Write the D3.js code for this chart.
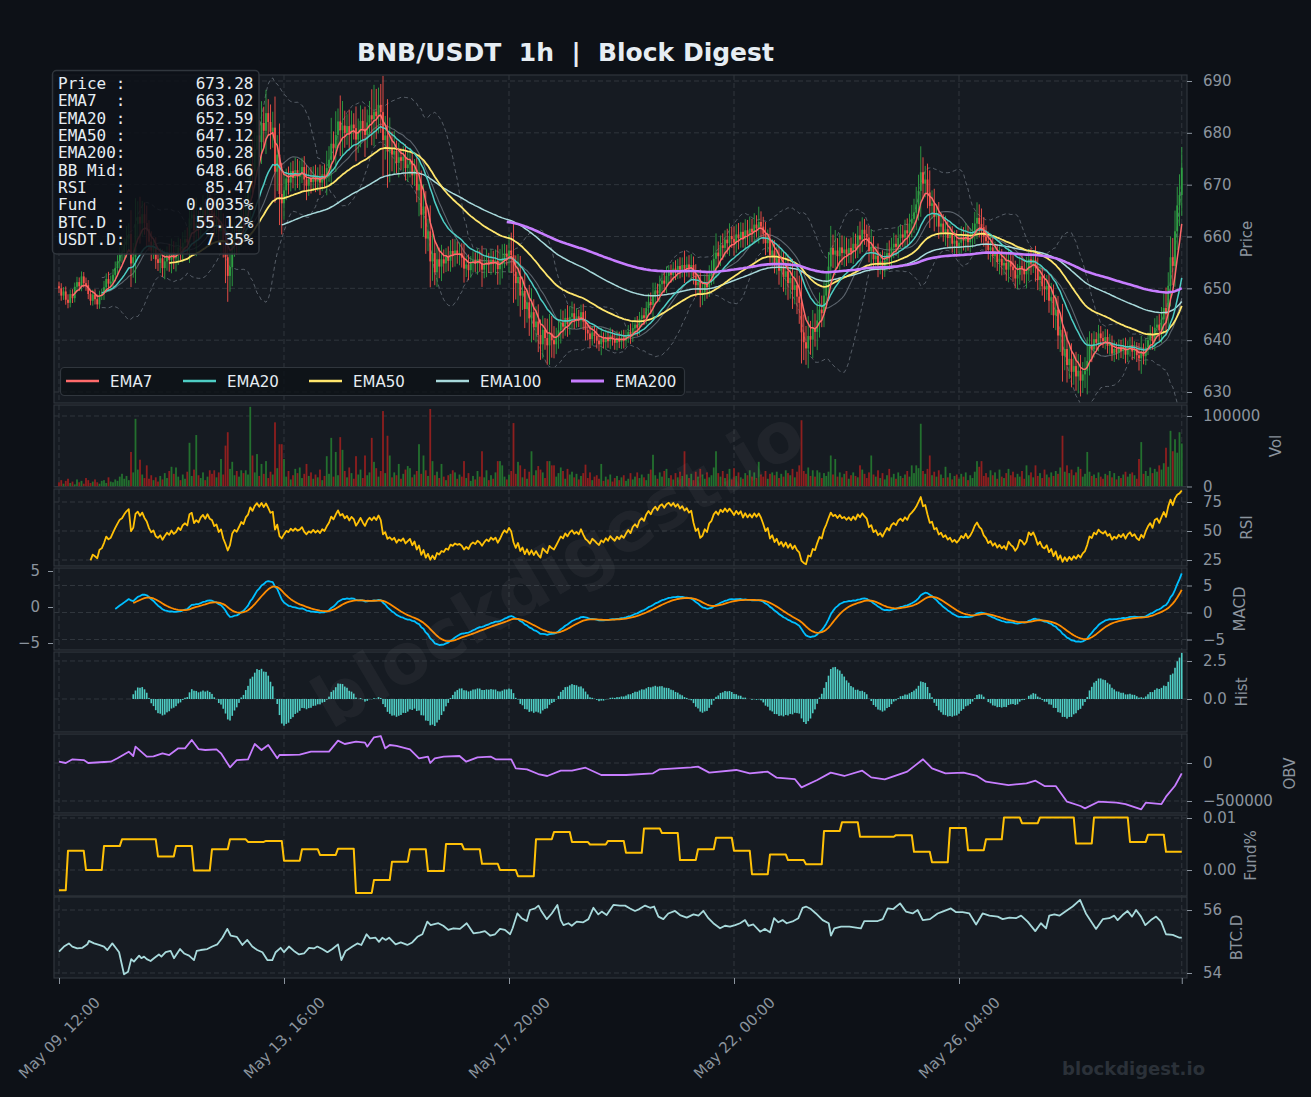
<!DOCTYPE html>
<html><head><meta charset="utf-8"><title>BNB/USDT 1h | Block Digest</title>
<script src="https://cdn.jsdelivr.net/npm/d3@7/dist/d3.min.js"></script>
<style>html,body{margin:0;padding:0;background:#0d1117;}svg{display:block;}</style>
</head><body>
<svg id="chart" width="1311" height="1097"></svg>
<script>
// ---------------- DATA ----------------
// hourly closes, May 09 12:00 -> May 30 07:00 (500 candles)
const closes = [
650.0,648.6,649.4,647.8,647.2,648.9,648.1,650.3,651.2,650.4,652.3,651.0,650.6,648.9,647.6,648.8,647.9,646.9,648.7,649.0,
650.2,651.8,650.9,651.3,652.6,653.9,655.2,656.5,657.0,658.4,659.6,660.5,654.8,656.0,662.4,663.8,662.5,664.3,662.6,661.4,
659.0,657.3,658.0,655.6,654.9,655.8,653.9,655.2,656.3,655.5,657.0,655.8,656.4,657.9,657.1,658.8,659.5,658.9,663.5,664.2,
661.2,662.5,661.8,664.0,665.2,664.1,666.3,665.0,664.6,662.8,663.4,661.0,661.9,658.5,656.0,652.4,654.1,658.6,660.2,659.4,
661.5,664.0,663.2,666.8,668.5,673.9,672.6,676.8,679.5,678.2,681.9,680.4,683.8,682.1,680.2,681.0,672.5,675.8,668.2,666.4,
668.9,671.2,670.4,672.6,671.3,672.8,671.5,672.1,673.4,671.0,669.8,671.2,670.5,671.8,670.6,671.5,670.4,672.0,671.3,673.2,
674.8,677.9,677.0,679.6,682.2,680.5,681.4,680.0,681.3,679.8,681.6,680.9,678.7,680.2,682.3,680.8,679.6,682.0,683.4,682.6,
684.1,683.2,685.4,684.0,678.6,679.5,676.4,677.0,675.8,676.5,674.2,675.3,674.6,675.4,673.2,673.9,674.6,671.8,672.9,668.9,
670.1,664.2,665.8,659.6,661.0,655.2,656.8,653.1,655.6,654.2,655.6,654.8,656.1,655.3,657.2,656.4,657.3,656.5,656.8,655.9,
653.8,654.6,653.5,654.8,655.4,654.7,655.6,654.9,653.6,654.5,655.2,654.6,655.5,654.8,655.3,653.7,654.6,655.8,656.7,656.1,
657.3,656.4,653.2,651.0,652.2,648.6,649.5,646.0,647.3,644.2,645.4,642.5,643.6,641.0,639.2,642.0,640.4,639.0,641.3,640.0,
639.2,640.5,641.9,643.4,642.6,644.3,643.1,644.5,645.2,644.0,644.6,643.8,645.4,643.6,642.0,641.3,640.2,641.5,640.8,639.9,
639.2,640.3,639.6,640.6,639.8,640.9,640.1,639.5,640.4,639.7,640.5,639.9,640.8,641.6,640.9,642.3,643.0,642.4,644.1,644.8,
644.3,646.2,647.4,646.8,648.5,649.6,649.0,650.8,651.5,650.9,652.4,653.1,652.6,653.8,653.2,654.3,653.6,654.5,653.8,654.6,
653.9,654.5,652.4,650.6,651.2,648.8,649.3,650.9,650.2,652.6,653.4,655.7,656.9,656.2,658.3,657.8,659.4,658.7,660.1,659.5,
658.8,660.4,659.7,660.9,659.6,661.2,660.3,661.5,660.8,662.3,661.6,662.8,661.9,660.5,658.7,659.6,656.4,657.3,654.9,655.8,
653.4,654.2,652.2,653.3,651.0,652.0,649.7,650.6,648.4,647.2,641.5,639.6,638.4,640.8,640.1,642.3,641.6,643.8,645.9,645.2,
648.6,650.9,654.2,657.8,656.5,657.3,656.2,657.9,656.8,657.5,656.6,657.8,656.9,658.6,657.7,660.2,659.4,661.3,660.5,659.8,
657.2,658.0,655.6,656.3,654.5,655.2,653.9,655.4,656.8,656.0,657.9,658.6,658.0,659.7,660.4,659.8,661.2,660.6,662.5,663.4,
664.6,666.2,668.8,672.4,670.2,671.0,668.5,665.9,666.4,663.8,664.3,661.9,662.5,660.8,661.4,659.7,660.3,658.6,659.2,658.1,
658.8,659.9,659.2,660.4,658.9,659.6,660.8,662.5,663.6,662.4,661.8,660.0,659.1,657.4,657.9,656.2,656.8,655.1,655.7,654.4,
654.9,653.6,655.3,654.2,653.5,651.9,652.6,654.3,653.8,652.7,653.4,655.6,654.8,655.5,654.0,651.6,652.3,650.4,649.8,650.5,
647.6,648.3,644.8,645.9,640.9,642.0,637.0,638.3,635.2,636.4,633.9,635.0,633.0,634.1,632.2,633.4,634.1,636.0,638.9,638.2,
640.2,639.5,641.3,640.4,639.8,640.6,638.9,639.5,637.4,638.3,637.6,638.7,637.9,638.8,637.2,638.4,639.0,637.8,638.3,637.1,
636.5,637.8,636.9,638.6,640.0,641.0,639.8,642.4,643.0,641.9,644.0,646.2,645.0,650.5,656.0,654.3,661.0,666.0,668.0,673.28
];
const firstOpen = 650.4;
// hourly volume, thousands of BNB
const volumes = [
6,9,4,8,11,5,7,3,10,6,8,4,12,9,5,7,10,6,4,8,
9,5,13,7,6,10,8,14,18,11,15,9,49,20,96,24,38,17,12,30,
11,16,9,13,7,15,10,19,12,22,28,18,27,14,9,17,11,21,62,15,
24,73,16,12,20,9,14,23,18,23,13,20,39,17,58,77,25,35,16,22,
14,23,19,23,17,113,44,20,46,15,32,18,36,12,21,17,91,26,60,60,
39,14,22,10,16,25,19,27,12,18,32,15,20,11,17,13,24,9,15,43,
18,69,14,49,16,70,52,22,13,27,19,11,43,17,24,12,44,16,20,69,
35,26,14,22,107,19,72,44,13,20,16,32,11,18,24,29,26,13,17,22,
60,18,44,23,15,110,36,16,21,12,32,14,9,16,18,23,20,11,17,14,
36,12,19,8,15,10,22,14,50,13,23,9,16,11,20,36,36,30,14,10,
17,22,90,18,35,30,13,25,11,21,50,16,23,29,24,20,12,36,36,30,
30,14,19,27,22,11,25,17,21,13,18,10,15,19,31,12,20,9,14,16,
11,32,8,14,10,17,7,12,15,9,13,16,8,11,19,10,14,20,12,17,
13,9,18,24,45,16,11,20,14,22,25,12,16,10,19,13,21,15,50,17,
12,18,9,21,14,25,17,11,20,13,16,27,50,19,14,22,12,18,25,10,
26,15,20,13,11,19,16,23,14,20,12,35,17,14,22,11,18,20,16,21,
12,18,14,23,19,16,25,13,21,30,94,22,18,27,15,23,14,23,20,12,
19,15,21,44,17,39,14,20,13,18,22,11,16,20,15,13,30,24,18,12,
20,44,17,14,23,12,19,10,16,25,13,18,11,20,15,12,17,22,14,30,
19,30,26,89,22,18,25,44,16,21,14,23,17,12,28,13,19,10,15,17,
11,18,14,20,9,16,12,21,36,28,36,15,19,13,23,16,20,11,24,14,
12,19,25,16,21,13,18,14,22,11,30,16,20,13,30,15,19,12,24,17,
13,20,15,22,18,27,72,21,30,19,24,16,20,28,25,14,18,49,21,15,
17,12,20,14,11,18,16,22,13,19,10,15,12,17,21,14,18,20,16,11,
39,63,18,22,15,27,19,25,21,30,24,33,55,28,79,50,67,48,77,61
];
// typical wick length per 10-hour block (price units)
const wickSizes = [1.2,1.2,1.5,2.5,2.0, 2.0,2.5,2.5,3.0,3.0, 2.0,2.0,2.5,2.5,3.5, 2.0,2.5,2.0,1.8,2.0,
  3.0,2.5,2.0,1.5,1.5, 1.5,1.5,1.5,2.0,2.0, 2.0,2.0,3.0,3.0,2.5, 2.0,2.0,2.0,2.5,2.0,
  2.0,2.0,2.0,2.0,2.5, 2.5,1.5,1.5,1.5,2.0];
// funding rate (%) per 8-hour period (first period is the partial one before May 09 16:00)
const fundRates = [-0.0039,0.0037,0.0000,0.0046,0.0059,0.0059,0.0026,0.0046,-0.0001,0.0040,0.0059,0.0054,0.0056,
  0.0018,0.0040,0.0029,0.0041,-0.0044,-0.0019,0.0016,0.0040,-0.0002,0.0050,0.0040,0.0012,0.0000,-0.0012,
  0.0059,0.0073,0.0054,0.0049,0.0056,0.0033,0.0080,0.0071,0.0019,0.0040,0.0062,0.0037,-0.0008,0.0030,
  0.0019,0.0011,0.0075,0.0092,0.0064,0.0064,0.0067,0.0035,0.0015,0.0081,0.0038,0.0059,0.0101,0.0090,
  0.0101,0.0101,0.0051,0.0101,0.0101,0.0054,0.0068,0.0035];
// OBV (thousands) sampled at hour index
const obvHours = [0,3,6,11,13,20,23,26,31,33,34,39,42,46,49,53,56,59,62,65,70,72,76,79,84,87,90,93,97,98,100,107,112,120,124,127,132,136,137,140,143,145,147,150,156,160,164,165,167,171,178,181,186,192,194,201,203,208,213,217,223,228,234,241,252,264,267,281,284,289,301,307,315,319,327,330,337,343,349,357,361,367,377,384,388,394,402,408,412,422,430,434,438,443,448,454,456,462,470,474,481,483,490,492,496,499];
const obvValues = [17,0,49,39,0,13,17,62,149,92,215,83,88,127,105,193,193,303,184,171,180,127,-57,39,49,250,171,237,62,105,105,110,149,149,294,250,281,268,215,338,355,193,237,224,180,62,83,0,62,83,92,17,75,83,49,49,-70,-83,-145,-171,-101,-101,-62,-158,-158,-136,-83,-57,-48,-127,-92,-136,-114,-193,-211,-320,-224,-127,-171,-101,-189,-215,-114,49,-70,-136,-127,-171,-246,-290,-268,-233,-303,-303,-509,-566,-597,-509,-522,-540,-610,-522,-540,-443,-300,-136];
// BTC dominance (%) sampled at hour index
const btcdHours = [0,2.2,4.4,5.9,8.1,10.4,12.6,13.3,15.6,17.8,20,21.5,23.7,25.2,26.7,28.9,30.7,32.1,33.3,35.6,
36.6,37.8,39,40.7,42.2,44.4,45.5,47.4,49.6,51.1,53.8,55.6,57.8,60,61.2,63,65.9,68.1,70.4,72.6,
74.8,76.3,79,81.5,83.7,85.9,88.1,90.4,92.6,94.8,96.3,98.5,100,102.2,104.4,106.7,108.9,111.1,113.3,114.8,
117,119.3,121.5,124,125.5,127.4,130.4,132.6,134.4,136.7,138.2,140.7,142.2,143.7,145.2,146.7,149.6,151.9,154.8,157,
159.3,161.5,163.7,165.2,166.4,168.6,170.8,173,175.3,178.2,181.2,184.2,187.1,189.3,191.6,193.8,196,198.2,200.5,201.6,
203.7,205.6,207.9,209.3,211.6,213.1,214.5,216.8,219,221.5,223,224.2,226.4,227.9,230.1,233,235.3,237.5,239.7,241.2,
243.4,246.4,249.3,251.6,253.8,256,257.9,260.5,262.7,264.5,266.4,268.6,270.8,273.8,276,279,282,284.2,286.4,288.6,
290.8,293.8,296,298.2,300.5,302.7,304.9,306.4,308.6,311.6,313.8,316,317.8,319.7,321.6,323.4,326.4,328.6,330.5,
332,334.2,336.4,339.4,342.1,343.1,344.6,347.6,351.3,354.2,356.4,357.9,360.9,363.9,366.1,368.3,370.8,373.8,376.4,379.4,
381.6,383.9,387.1,390.5,392.7,396.4,398.7,401.6,404.6,407.6,410.5,413.5,417.2,419.4,422.4,425.3,427.6,430.5,433.9,436.4,
438.7,440.1,442.4,444.6,447.6,450.5,453.8,456.4,460.9,463.9,466.8,469,470.5,472.7,474.9,476.9,478.7,480.9,482.8,485.3,
487.6,489.8,492,495,498,499];
const btcdValues = [54.68,54.84,54.94,54.84,54.78,54.80,54.91,55.02,54.94,54.89,54.84,54.73,54.94,54.80,54.66,53.96,54.04,54.44,54.36,54.55,
54.47,54.52,54.44,54.38,54.47,54.59,54.52,54.66,54.70,54.47,54.76,54.62,54.55,54.41,54.70,54.73,54.76,54.84,54.91,55.12,
55.40,55.19,55.15,54.89,55.05,54.84,54.73,54.66,54.41,54.41,54.66,54.80,54.66,54.84,54.70,54.59,54.62,54.80,54.78,54.84,
54.76,54.66,54.76,54.91,54.41,54.70,54.84,54.94,54.89,55.23,55.10,55.12,54.99,55.12,55.05,55.12,54.91,54.97,54.89,54.97,
55.15,55.23,55.63,55.52,55.54,55.58,55.50,55.37,55.42,55.40,55.58,55.26,55.29,55.33,55.19,55.23,55.40,55.37,55.23,55.42,
55.89,55.74,55.65,56.00,56.05,56.14,55.95,55.71,55.89,56.16,55.68,55.52,55.58,55.50,55.63,55.61,55.71,56.07,55.86,55.95,
55.84,56.16,56.14,56.14,56.05,55.97,56.03,56.14,56.07,56.11,55.79,55.71,55.89,55.97,55.84,55.76,55.86,55.82,55.97,55.74,
55.58,55.42,55.50,55.47,55.52,55.58,55.68,55.50,55.54,55.31,55.40,55.29,55.74,55.61,55.68,55.58,55.65,55.74,56.07,
56.11,56.03,55.89,55.68,55.58,55.19,55.42,55.47,55.47,55.44,55.42,55.65,55.65,55.65,55.71,56.05,56.03,56.21,55.95,55.89,
56.00,55.68,55.71,55.89,55.95,56.05,55.93,55.93,55.89,55.54,55.89,55.82,55.79,55.71,55.76,55.74,55.82,55.63,55.33,55.58,
55.42,55.82,55.86,55.82,55.97,56.11,56.32,55.89,55.40,55.71,55.74,55.82,55.68,55.84,55.97,55.79,56.00,55.79,55.52,55.68,
55.79,55.63,55.23,55.21,55.12,55.12];
// x ticks (hour index) and labels
const xTickHours = [0,100,200,300,400,499];
const xTickLabels = ["May 09, 12:00","May 13, 16:00","May 17, 20:00","May 22, 00:00","May 26, 04:00",""];
// info box
const infoLabels = ["Price :","EMA7  :","EMA20 :","EMA50 :","EMA200:","BB Mid:","RSI   :","Fund  :","BTC.D :","USDT.D:"];
const infoValues = ["673.28","663.02","652.59","647.12","650.28","648.66","85.47","0.0035%","55.12%","7.35%"];
// legend
const legendNames = ["EMA7","EMA20","EMA50","EMA100","EMA200"];
const emaSpans = [7,20,50,100,200];
const emaColors = ["#ff6b6b","#4ecdc4","#ffe66d","#a8dadc","#c77dff"];
const emaWidths = [1.5,1.5,1.8,1.5,2.6];
const titleText = "BNB/USDT  1h  |  Block Digest";
const watermark = "blockdigest.io";

// ---------------- DERIVED INDICATORS ----------------
const N = closes.length;
const opens = closes.map((c,i)=> i===0 ? firstOpen : closes[i-1]);
const candles = closes.map((c,i)=>{
  const o = opens[i];
  const w = wickSizes[Math.min(wickSizes.length-1, Math.floor(i/10))] * Math.min(2, 0.6 + volumes[i]/40);
  return {i, o, c, h: Math.max(o,c)+w, l: Math.min(o,c)-w, v: volumes[i], up: c>=o};
});
function ema(arr, span, minP){
  const a = 2/(span+1); let e = null, n = 0;
  return arr.map(v=>{ if(v==null) return null; n++; e = (e==null)? v : a*v+(1-a)*e; return n>=minP ? e : null; });
}
const emas = emaSpans.map(s=>ema(closes, s, s));
const e12 = ema(closes,12,1), e26 = ema(closes,26,1);
const macd = closes.map((c,i)=> i>=25 ? e12[i]-e26[i] : null);
const signal = ema(macd, 9, 9);
const hist = macd.map((m,i)=> (m!=null && signal[i]!=null) ? m-signal[i] : null);
// RSI 14 with Wilder smoothing
let ag = null, al = null;
const rsi = closes.map((c,i)=>{
  if(i===0) return null;
  const d = c - closes[i-1], g = Math.max(d,0), l = Math.max(-d,0);
  ag = ag==null ? g : ag + (g-ag)/14;
  al = al==null ? l : al + (l-al)/14;
  return i>=14 ? (al===0 ? 100 : 100-100/(1+ag/al)) : null;
});
const bb = closes.map((c,i)=>{
  if(i<19) return null; const s = closes.slice(i-19,i+1); const m = d3.mean(s), sd = d3.deviation(s);
  return {m, u:m+2*sd, l:m-2*sd};
});
const fundHourly = d3.range(N).map(h=> fundRates[h<4 ? 0 : Math.floor((h-4)/8)+1]);

// ---------------- LAYOUT ----------------
const W = 1311, H = 1097, X0 = 54, X1 = 1187;
const FONT = "DejaVu Sans, Verdana, sans-serif", MONO = "DejaVu Sans Mono, monospace";
const GRID = "#30363d", AX = "#8b949e", FG = "#e6edf3";
const svg = d3.select("#chart");
svg.append("rect").attr("width",W).attr("height",H).attr("fill","#0d1117");
const defs = svg.append("defs");
const x = d3.scaleLinear().domain([-2.2222, 501.3333]).range([X0, X1]);

const fmtPlain = d3.format("");
const panels = {
  price:{top:75,bottom:403,domain:[627.878,691.158],ticks:[630,640,650,660,670,680,690],title:"Price",tx:1247},
  vol:{top:405,bottom:487,domain:[-0.71,115.6],ticks:[0,100],fmt:d=>d===0?"0":"100000",title:"Vol",tx:1276},
  rsi:{top:489,bottom:566,domain:[19.83,86.21],ticks:[25,50,75],title:"RSI",tx:1247},
  macd:{top:568,bottom:650,domain:[-6.94,8.24],ticks:[-5,0,5],title:"MACD",tx:1240},
  hist:{top:652,bottom:732,domain:[-2.17,3.09],ticks:[0,2.5],fmt:d=>d3.format(".1f")(d),title:"Hist",tx:1242},
  obv:{top:734,bottom:813,domain:[-657.9,381.6],ticks:[-500,0],fmt:d=>d===0?"0":"\u2212500000",title:"OBV",tx:1290},
  fund:{top:815,bottom:896,domain:[-0.005,0.010577],ticks:[0,0.01],fmt:d=>d3.format(".2f")(d),title:"Fund%",tx:1251},
  btcd:{top:897,bottom:978,domain:[53.841,56.413],ticks:[54,56],title:"BTC.D",tx:1237}
};
Object.entries(panels).forEach(([k,p])=>{
  p.y = d3.scaleLinear().domain(p.domain).range([p.bottom,p.top]);
  const g = svg.append("g");
  g.append("rect").attr("x",X0).attr("y",p.top).attr("width",X1-X0).attr("height",p.bottom-p.top).attr("fill","#161b22");
  defs.append("clipPath").attr("id","clip-"+k).append("rect").attr("x",X0).attr("y",p.top).attr("width",X1-X0).attr("height",p.bottom-p.top);
  g.selectAll(null).data(p.ticks).join("line")
    .attr("x1",X0).attr("x2",X1).attr("y1",d=>p.y(d)).attr("y2",d=>p.y(d))
    .attr("stroke",GRID).attr("stroke-width",1).attr("stroke-dasharray","5,3");
  g.selectAll(null).data(xTickHours).join("line")
    .attr("x1",d=>x(d)).attr("x2",d=>x(d)).attr("y1",p.top).attr("y2",p.bottom)
    .attr("stroke",GRID).attr("stroke-width",1).attr("stroke-dasharray","5,3");
  p.plot = svg.append("g").attr("clip-path",`url(#clip-${k})`);
});

const ptsOf = arr => arr.map((v,i)=>({i,v}));
function drawLine(panel, arr, color, width, dash, opacity){
  const p = panels[panel];
  p.plot.append("path").datum(ptsOf(arr))
    .attr("d", d3.line().defined(d=>d.v!=null).x(d=>x(d.i)).y(d=>p.y(d.v)))
    .attr("fill","none").attr("stroke",color).attr("stroke-width",width)
    .attr("stroke-dasharray",dash||null).attr("opacity",opacity==null?1:opacity)
    .attr("stroke-linejoin","round");
}

// ---- price panel ----
const P = panels.price;
drawLine("price", bb.map(b=>b&&b.u), "#8b949e", 1, "4,3", 0.55);
drawLine("price", bb.map(b=>b&&b.l), "#8b949e", 1, "4,3", 0.55);
drawLine("price", bb.map(b=>b&&b.m), "#8b949e", 1.1, null, 0.6);
const UP = "#2ea043", DN = "#f85149";
P.plot.selectAll("line.wick").data(candles).join("line").attr("class","wick")
  .attr("x1",d=>x(d.i)).attr("x2",d=>x(d.i)).attr("y1",d=>P.y(d.h)).attr("y2",d=>P.y(d.l))
  .attr("stroke",d=>d.up?UP:DN).attr("stroke-width",0.9);
P.plot.selectAll("rect.body").data(candles).join("rect").attr("class","body")
  .attr("x",d=>x(d.i)-0.9).attr("width",1.8)
  .attr("y",d=>P.y(Math.max(d.o,d.c)))
  .attr("height",d=>Math.max(0.8, Math.abs(P.y(d.o)-P.y(d.c))))
  .attr("fill",d=>d.up?UP:DN);
[3,2,1,0,4].forEach(k=> drawLine("price", emas[k], emaColors[k], emaWidths[k]));

// ---- volume ----
const V = panels.vol;
V.plot.selectAll("rect").data(candles).join("rect")
  .attr("x",d=>x(d.i)-0.9).attr("width",1.8)
  .attr("y",d=>V.y(d.v)).attr("height",d=>V.y(0)-V.y(d.v))
  .attr("fill",d=>d.up?"#23702f":"#8e1f1f");

// ---- RSI ----
drawLine("rsi", rsi, "#ffc107", 1.8);

// ---- MACD ----
drawLine("macd", macd, "#00bfff", 1.8);
drawLine("macd", signal, "#ff8c00", 1.8);

// ---- Hist ----
const HP = panels.hist;
HP.plot.selectAll("rect").data(ptsOf(hist).filter(d=>d.v!=null)).join("rect")
  .attr("x",d=>x(d.i)-0.8).attr("width",1.6)
  .attr("y",d=>HP.y(Math.max(0,d.v))).attr("height",d=>Math.abs(HP.y(d.v)-HP.y(0)))
  .attr("fill","#4ecdc4");

// ---- OBV ----
const O = panels.obv;
O.plot.append("path").datum(obvHours.map((h,i)=>({h,v:obvValues[i]})))
  .attr("d", d3.line().x(d=>x(d.h)).y(d=>O.y(d.v)))
  .attr("fill","none").attr("stroke","#c77dff").attr("stroke-width",1.8).attr("stroke-linejoin","round");

// ---- Funding ----
drawLine("fund", fundHourly, "#ffc107", 2);

// ---- BTC.D ----
const B = panels.btcd;
B.plot.append("path").datum(btcdHours.map((h,i)=>({h,v:btcdValues[i]})))
  .attr("d", d3.line().x(d=>x(d.h)).y(d=>B.y(d.v)))
  .attr("fill","none").attr("stroke","#a8dadc").attr("stroke-width",1.8).attr("stroke-linejoin","round");

// ---- frames, axes, titles ----
Object.entries(panels).forEach(([k,p])=>{
  svg.append("rect").attr("x",X0).attr("y",p.top).attr("width",X1-X0).attr("height",p.bottom-p.top)
    .attr("fill","none").attr("stroke",GRID).attr("stroke-width",1.2);
  const ax = svg.append("g").attr("transform",`translate(${X1},0)`)
    .call(d3.axisRight(p.y).tickValues(p.ticks).tickFormat(p.fmt||fmtPlain).tickSize(5).tickPadding(11));
  ax.select(".domain").remove();
  ax.attr("font-size",15).attr("font-family",FONT).attr("color",AX);
  svg.append("text").attr("transform",`translate(${p.tx},${(p.top+p.bottom)/2}) rotate(-90)`)
    .attr("text-anchor","middle").attr("dominant-baseline","central")
    .attr("font-family",FONT).attr("font-size",15).attr("fill",AX).text(p.title);
});
// extra left axis on the MACD panel
const macdLeft = d3.scaleLinear().domain([-5.972,5.417]).range([650,568]);
const axL = svg.append("g").attr("transform",`translate(${X0-1},0)`)
  .call(d3.axisLeft(macdLeft).tickValues([-5,0,5]).tickSize(5).tickPadding(8));
axL.select(".domain").remove();
axL.attr("font-size",15).attr("font-family",FONT).attr("color",AX);

// bottom time axis
const axB = svg.append("g").attr("transform",`translate(0,978)`)
  .call(d3.axisBottom(x).tickValues(xTickHours).tickSize(6).tickFormat((d,i)=>xTickLabels[i]));
axB.select(".domain").remove();
axB.attr("font-size",15).attr("font-family",FONT).attr("color",AX);
axB.selectAll("text").attr("y",null).attr("dy",null)
  .attr("transform","translate(0,60) rotate(-45)")
  .attr("text-anchor","middle").attr("dominant-baseline","central");

// ---- legend ----
const lg = svg.append("g");
lg.append("rect").attr("x",60.5).attr("y",367.5).attr("width",624).attr("height",28).attr("rx",4)
  .attr("fill","#0d1117").attr("fill-opacity",0.8).attr("stroke","#30363d").attr("stroke-width",1.2);
const lgX = [66,183,309,436,571];
legendNames.forEach((n,i)=>{
  lg.append("line").attr("x1",lgX[i]).attr("x2",lgX[i]+33).attr("y1",381).attr("y2",381)
    .attr("stroke",emaColors[i]).attr("stroke-width",i===4?3.2:2.4);
  lg.append("text").attr("x",lgX[i]+44).attr("y",386.5).attr("font-family",FONT).attr("font-size",15)
    .attr("fill",FG).text(n);
});

// ---- info box ----
const ib = svg.append("g");
ib.append("rect").attr("x",52.5).attr("y",70.5).attr("width",206.5).attr("height",183.5).attr("rx",4)
  .attr("fill","#0d1117").attr("fill-opacity",0.85).attr("stroke","#30363d").attr("stroke-width",1.5);
infoLabels.forEach((l,i)=>{
  const yy = 89 + i*17.33;
  ib.append("text").attr("x",58).attr("y",yy).attr("font-family",MONO).attr("font-size",16)
    .attr("fill",FG).style("white-space","pre").text(l);
  ib.append("text").attr("x",253.5).attr("y",yy).attr("text-anchor","end").attr("font-family",MONO)
    .attr("font-size",16).attr("fill",FG).text(infoValues[i]);
});

// ---- title ----
svg.append("text").attr("x",565.5).attr("y",61).attr("text-anchor","middle")
  .attr("font-family",FONT).attr("font-weight","bold").attr("font-size",25).attr("fill",FG)
  .style("white-space","pre").text(titleText);

// ---- watermarks ----
svg.append("text").attr("transform","translate(558,568) rotate(-30.6)")
  .attr("text-anchor","middle").attr("dominant-baseline","central")
  .attr("font-family",FONT).attr("font-weight","bold").attr("font-size",70)
  .attr("fill","#ffffff").attr("fill-opacity",0.045).text(watermark);
svg.append("text").attr("x",1205).attr("y",1075).attr("text-anchor","end")
  .attr("font-family",FONT).attr("font-weight","bold").attr("font-size",18)
  .attr("fill","#2b3139").text(watermark);
</script>
</body></html>
